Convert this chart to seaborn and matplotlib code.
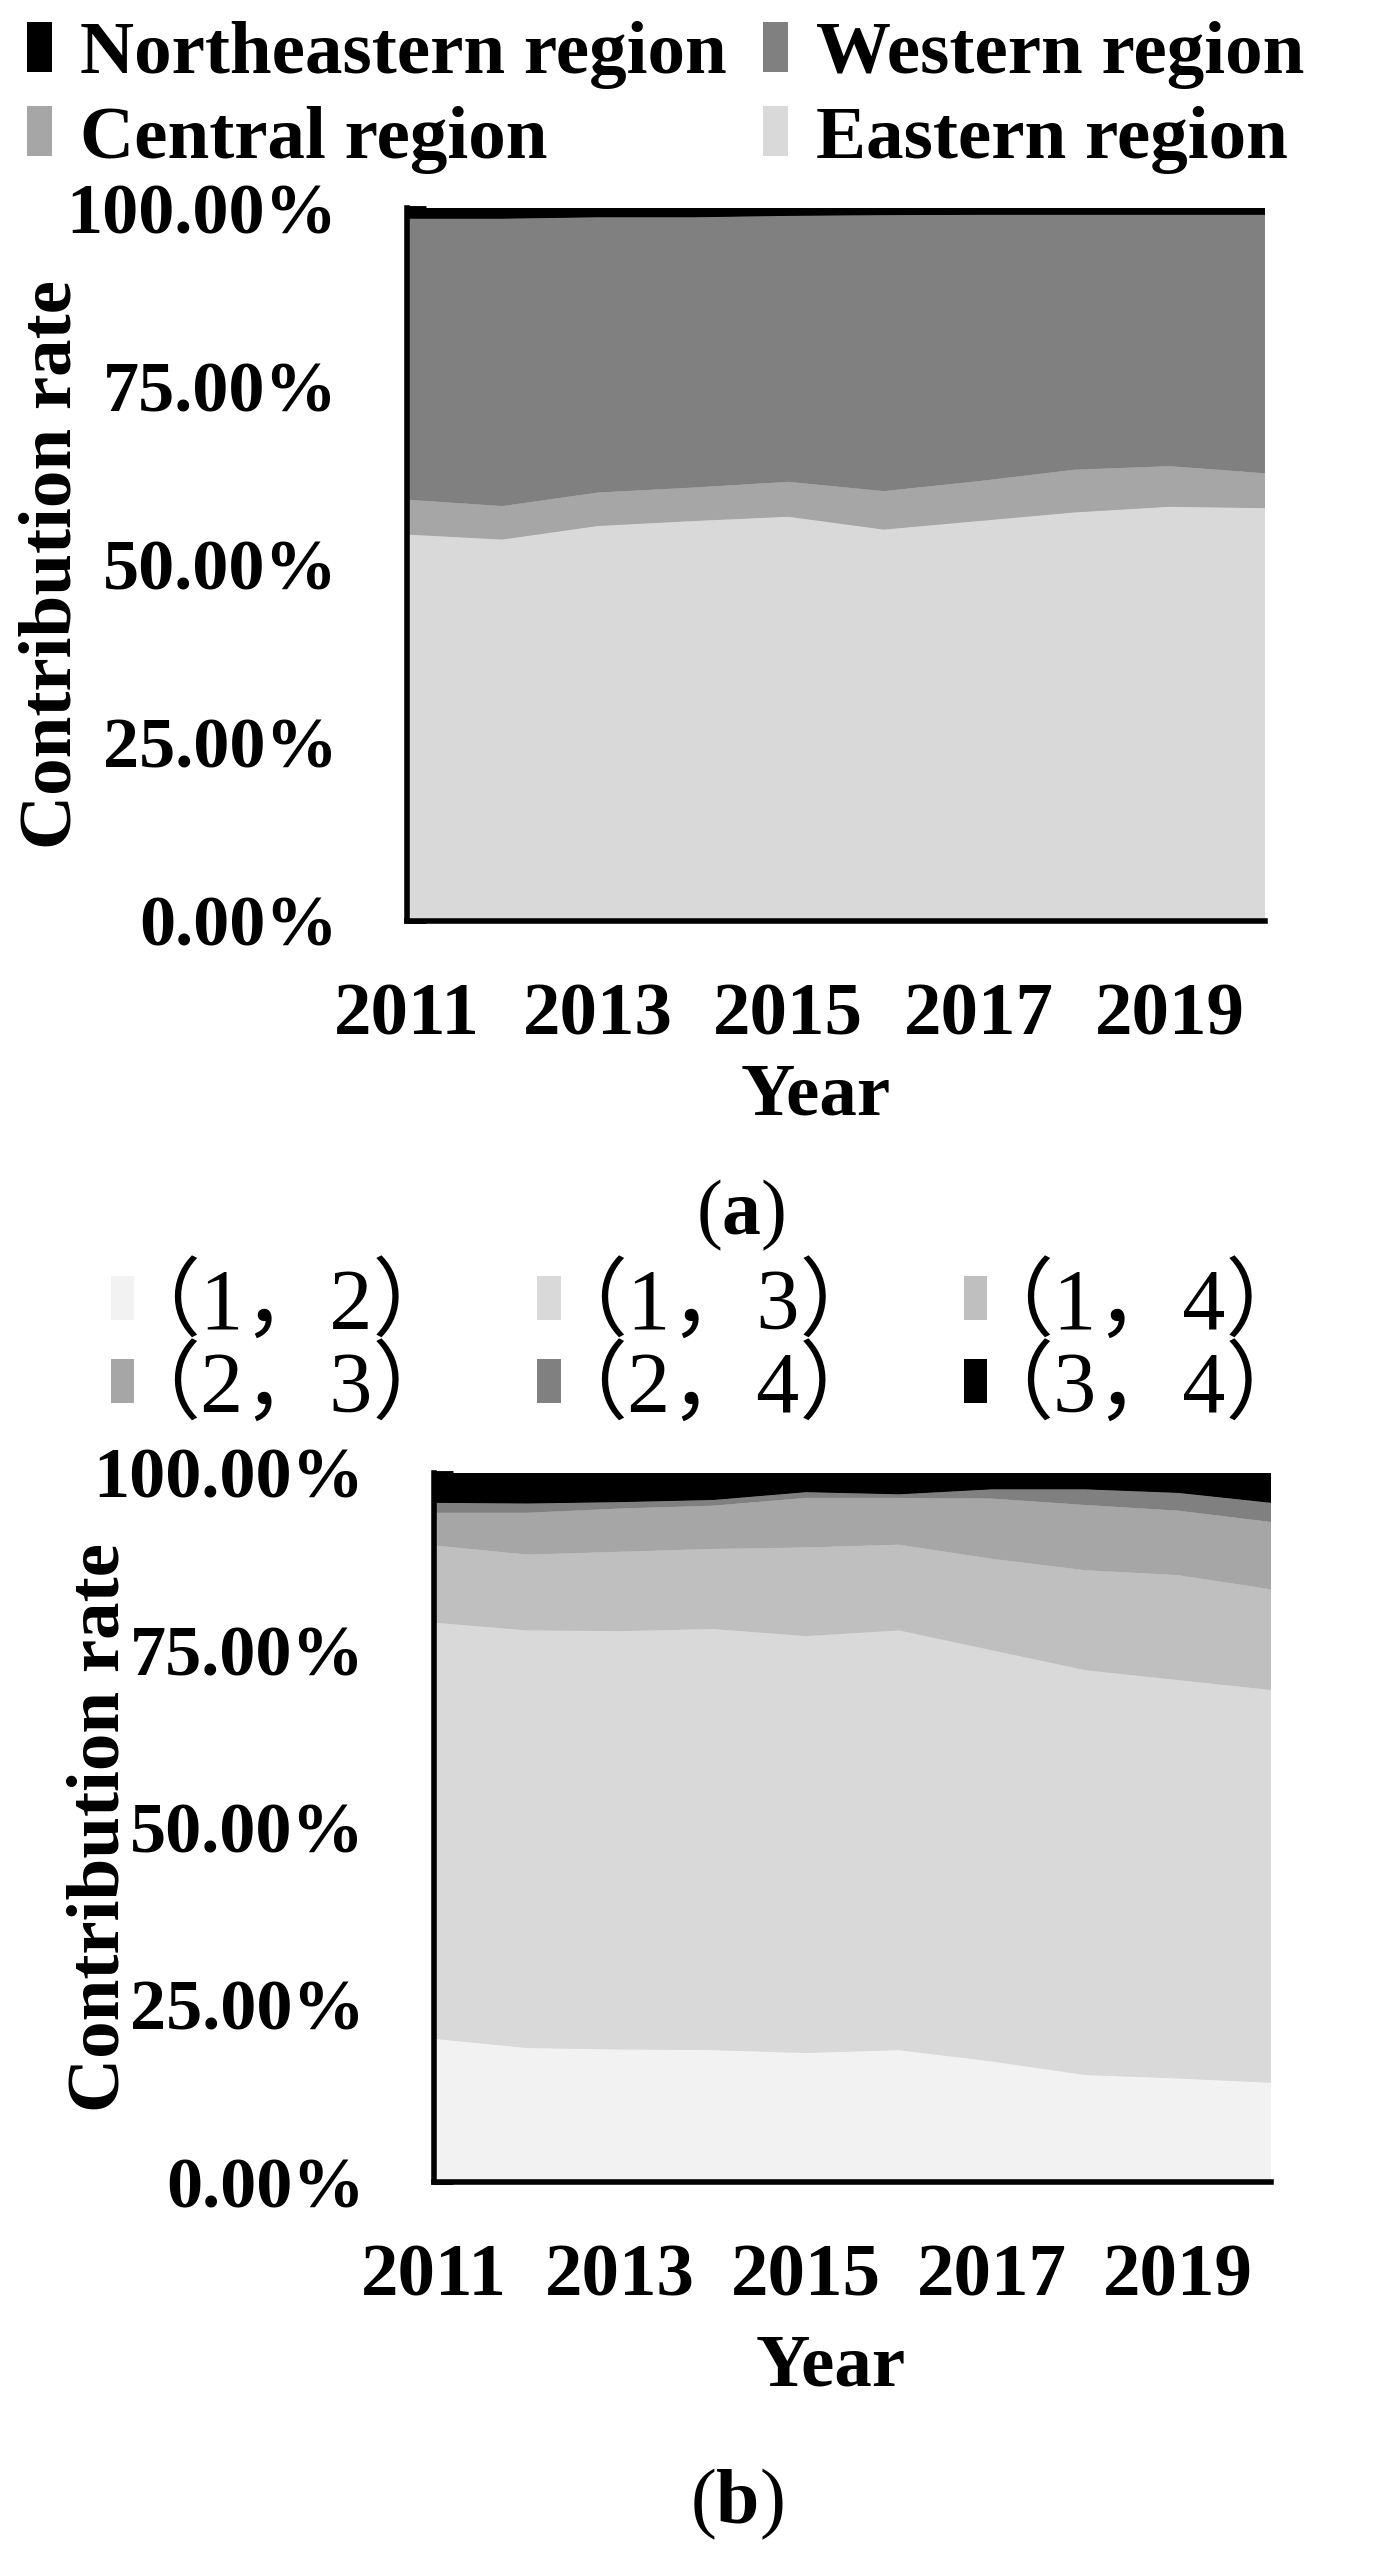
import matplotlib
matplotlib.use("Agg")
import matplotlib.pyplot as plt
import pandas as pd
import seaborn as sns
import seaborn.objects as so
from matplotlib.patches import Patch
from matplotlib.font_manager import FontProperties

# ---------------- data ----------------
years = [2011, 2012, 2013, 2014, 2015, 2016, 2017, 2018, 2019, 2020]
year_ticks = [2011, 2013, 2015, 2017, 2019]
pct_ticks = [0, 25, 50, 75, 100]

# (a) contribution rate by region, % (stacked bottom -> top)
region_names = ["Eastern region", "Central region", "Western region", "Northeastern region"]
eastern = [54.2, 53.5, 55.4, 56.1, 56.7, 54.9, 56.1, 57.3, 58.1, 57.9]
central = [4.9, 4.7, 4.7, 4.7, 4.9, 5.4, 5.6, 6.0, 5.7, 4.9]
western = [39.4, 40.3, 38.6, 37.9, 37.3, 38.7, 37.35, 35.75, 35.25, 36.25]
northeastern = [1.5, 1.5, 1.3, 1.3, 1.1, 1.0, 0.95, 0.95, 0.95, 0.95]
region_colors = ["#d9d9d9", "#a6a6a6", "#808080", "#000000"]
region_legend_order = ["Northeastern region", "Central region", "Western region", "Eastern region"]

# (b) contribution rate by region pair, % (stacked bottom -> top)
pair_names = ["（1，2）", "（1，3）", "（1，4）", "（2，3）", "（2，4）", "（3，4）"]
p12 = [20.2, 18.9, 18.7, 18.6, 18.2, 18.6, 17.0, 15.1, 14.6, 14.0]
p13 = [58.7, 58.9, 59.0, 59.4, 58.8, 59.2, 58.0, 57.1, 56.2, 55.4]
p14 = [10.9, 10.7, 11.2, 11.3, 12.5, 12.1, 12.9, 14.1, 14.8, 14.2]
p23 = [4.6, 5.9, 6.1, 6.1, 7.0, 6.6, 8.5, 9.2, 9.1, 9.5]
p24 = [1.4, 1.3, 0.9, 0.8, 0.8, 0.5, 1.3, 2.2, 2.5, 2.7]
p34 = [4.2, 4.3, 4.1, 3.8, 2.7, 3.0, 2.3, 2.3, 2.8, 4.2]
pair_colors = ["#f2f2f2", "#d9d9d9", "#bfbfbf", "#a6a6a6", "#808080", "#000000"]
pair_legend_order = ["（1，2）", "（2，3）", "（1，3）", "（2，4）", "（1，4）", "（3，4）"]

# ---------------- style ----------------
W, H, DPI = 1375, 2557, 100
sns.set_theme(style="ticks")
FAMILY = ["Liberation Serif", "Noto Sans CJK SC", "DejaVu Sans"]
plt.rcParams["font.family"] = FAMILY
plt.rcParams["text.color"] = "black"
plt.rcParams["axes.labelcolor"] = "black"
plt.rcParams["xtick.color"] = "black"
plt.rcParams["ytick.color"] = "black"
plt.rcParams["mathtext.fontset"] = "custom"
plt.rcParams["mathtext.rm"] = "Liberation Serif"
plt.rcParams["mathtext.bf"] = "Liberation Serif:bold"

theme = {**sns.axes_style("ticks"), **sns.plotting_context("notebook"),
         "font.family": FAMILY, "axes.grid": False, "text.color": "black",
         "axes.labelcolor": "black", "xtick.color": "black", "ytick.color": "black"}

fig = plt.figure(figsize=(W / DPI, H / DPI), dpi=DPI)
fig.patch.set_facecolor("white")


def px_axes(left, top, right, bottom):
    return fig.add_axes([left / W, 1 - bottom / H, (right - left) / W, (bottom - top) / H])


def stacked_area(ax, names, values, colors):
    df = pd.DataFrame({
        "Year": [y for _ in names for y in years],
        "Share": [v for vals in values for v in vals],
        "Series": [n for n in names for _ in years],
    })
    (
        so.Plot(df, x="Year", y="Share", color="Series")
        .add(so.Area(alpha=1), so.Stack(), legend=False)
        .scale(
            color=so.Nominal(dict(zip(names, colors)), order=names),
            x=so.Continuous().tick(at=year_ticks).label(like="{x:.0f}"),
            y=so.Continuous().tick(at=pct_ticks).label(like="{x:.2f}%"),
        )
        .limit(x=(years[0], years[-1]), y=(0, 100))
        .theme(theme)
        .on(ax)
        .plot()
    )


def style_axes(ax, left, top, right, bottom, xlabel_center, xlabel_top, ylabel_center):
    ax.set_facecolor("white")
    for s in ["top", "right"]:
        ax.spines[s].set_visible(False)
    for s in ["left", "bottom"]:
        ax.spines[s].set_visible(True)
        ax.spines[s].set_linewidth(4)
        ax.spines[s].set_color("black")
        ax.spines[s].set_zorder(5)
    ax.grid(False)
    ax.tick_params(axis="both", which="major", direction="in", length=14, width=3.5,
                   color="black", labelcolor="black")
    ax.tick_params(axis="x", pad=44, labelsize=54)
    ax.tick_params(axis="y", pad=50, labelsize=52)
    for lab in ax.get_xticklabels() + ax.get_yticklabels():
        lab.set_fontweight("bold")
        lab.set_family(FAMILY)
        lab.set_color("black")
    wpx, hpx = right - left, bottom - top
    ax.set_xlabel("Year", fontsize=54, fontweight="bold", family=FAMILY, color="black")
    ax.xaxis.set_label_coords((xlabel_center - left) / wpx, (bottom - xlabel_top) / hpx)
    ax.set_ylabel("Contribution rate", fontsize=54, fontweight="bold", family=FAMILY,
                  va="center", color="black")
    ax.yaxis.set_label_coords((ylabel_center - left) / wpx, 0.5)


# ---------------- panel (a) ----------------
A = (407, 208, 1265, 921)
ax_a = px_axes(*A)
stacked_area(ax_a, region_names, [eastern, central, western, northeastern], region_colors)
style_axes(ax_a, *A, xlabel_center=816, xlabel_top=1063, ylabel_center=53)

reg_col = dict(zip(region_names, region_colors))
fig.legend(
    handles=[Patch(facecolor=reg_col[n], edgecolor="none") for n in region_legend_order],
    labels=region_legend_order,
    loc="upper left", bbox_to_anchor=(27 / W, 1 - 21 / H), bbox_transform=fig.transFigure,
    ncol=2, frameon=False, prop=FontProperties(family=FAMILY, weight="bold", size=54),
    labelcolor="black",
    handlelength=0.33, handleheight=0.65, handletextpad=0.37, columnspacing=0.49,
    labelspacing=0.22, borderpad=0, borderaxespad=0,
)
fig.text(741 / W, 1 - 1215 / H, r"($\mathbf{a}$)", ha="center", va="center", fontsize=56,
         color="black")

# ---------------- panel (b) ----------------
B = (434, 1473, 1271, 2182)
ax_b = px_axes(*B)
stacked_area(ax_b, pair_names, [p12, p13, p14, p23, p24, p34], pair_colors)
style_axes(ax_b, *B, xlabel_center=831, xlabel_top=2333, ylabel_center=100)

pair_col = dict(zip(pair_names, pair_colors))
fig.legend(
    handles=[Patch(facecolor=pair_col[n], edgecolor="none") for n in pair_legend_order],
    labels=pair_legend_order,
    loc="upper left", bbox_to_anchor=(111 / W, 1 - 1265 / H), bbox_transform=fig.transFigure,
    ncol=3, frameon=False, prop=FontProperties(family=FAMILY, size=62),
    labelcolor="black",
    handlelength=0.27, handleheight=0.4, handletextpad=-0.23, columnspacing=0.91,
    labelspacing=0.0, borderpad=0, borderaxespad=0,
)
fig.text(737 / W, 1 - 2504 / H, r"($\mathbf{b}$)", ha="center", va="center", fontsize=56,
         color="black")

fig.savefig("out.png", dpi=DPI, facecolor="white")
